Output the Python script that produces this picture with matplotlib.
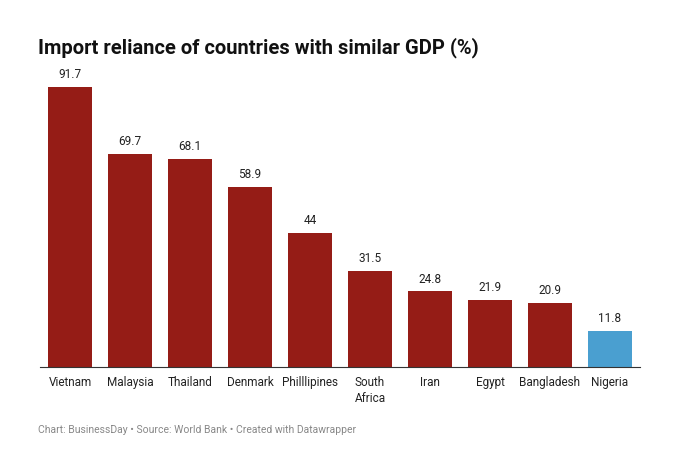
import matplotlib.pyplot as plt

countries = ["Vietnam", "Malaysia", "Thailand", "Denmark", "Philllipines",
             "South\nAfrica", "Iran", "Egypt", "Bangladesh", "Nigeria"]
values = [91.7, 69.7, 68.1, 58.9, 44, 31.5, 24.8, 21.9, 20.9, 11.8]
labels = ["91.7", "69.7", "68.1", "58.9", "44", "31.5", "24.8", "21.9", "20.9", "11.8"]

plt.rcParams['font.family'] = ['Roboto', 'DejaVu Sans']

red = "#951c16"
blue = "#4a9fd0"
colors = [red] * 9 + [blue]

fig = plt.figure(figsize=(6.8, 4.56), dpi=100)
ax = fig.add_axes([40 / 680, 1 - 368 / 456, 600 / 680, 280 / 456])
x = range(len(values))
ax.bar(x, values, width=0.72, color=colors)
for i, v in enumerate(values):
    ax.text(i, v + 2.2, labels[i], ha="center", va="bottom", fontsize=8.5, color="#222222")

ax.set_xlim(-0.5, len(values) - 0.5)
ax.set_ylim(0, 91.7)
ax.set_yticks([])
ax.set_xticks(list(x))
ax.set_xticklabels(countries, fontsize=8.5, color="#222222", linespacing=1.3)
ax.tick_params(axis="x", length=0, pad=6)
for s in ["top", "right", "left"]:
    ax.spines[s].set_visible(False)
ax.spines["bottom"].set_color("#333333")
ax.spines["bottom"].set_linewidth(0.8)

fig.text(38 / 680, 1 - 48 / 456, "Import reliance of countries with similar GDP (%)",
         fontsize=14.5, fontweight="bold", va="center", color="#111111")
fig.text(38 / 680, 1 - 430 / 456,
         "Chart: BusinessDay \u2022 Source: World Bank \u2022 Created with Datawrapper",
         fontsize=7.5, va="center", color="#888888")

fig.savefig("out.png", dpi=100, facecolor="white")
